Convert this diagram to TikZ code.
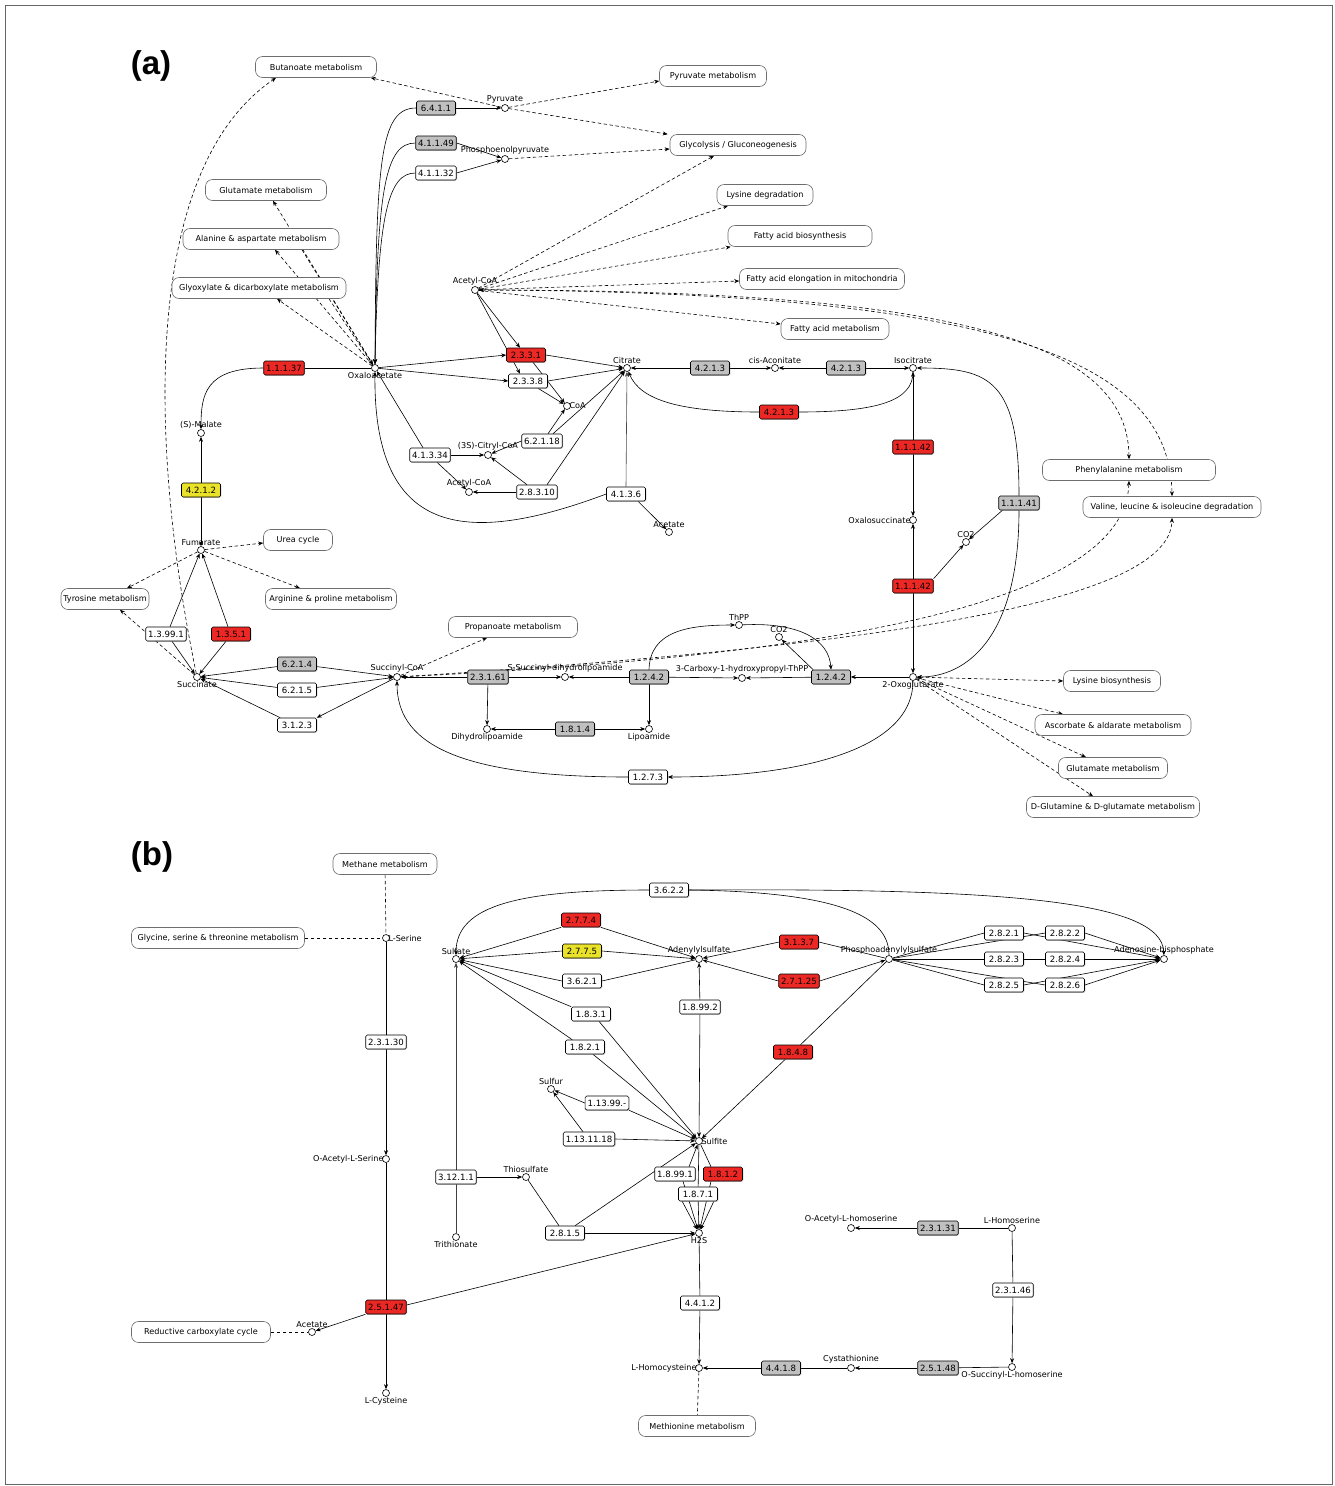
\documentclass[tikz,border=0pt]{standalone}
\usepackage{fontspec}
\setmainfont{DejaVu Sans}
\setsansfont{Liberation Sans}
\usetikzlibrary{arrows.meta,shadows}
\definecolor{ered}{RGB}{236,40,36}
\definecolor{egray}{RGB}{192,192,192}
\definecolor{eyel}{RGB}{233,226,40}
\definecolor{pborder}{RGB}{110,110,110}
\pgfdeclarelayer{bgfill}
\pgfdeclarelayer{background}
\pgfsetlayers{bgfill,background,main}
\tikzset{
 enz/.style={draw=black, line width=0.6pt, rounded corners=1.5pt, fill=white,
   font=\fontsize{8.6}{9}\selectfont, inner xsep=2.5pt, inner ysep=0pt,
   minimum width=39pt, minimum height=14pt,
   drop shadow={shadow xshift=0.8pt,shadow yshift=-0.8pt,fill=black!45}},
 enzr/.style={enz, fill=ered},
 enzg/.style={enz, fill=egray},
 enzy/.style={enz, fill=eyel},
 cpd/.style={circle, draw=black, fill=white, line width=0.6pt, inner sep=0pt,
   minimum size=7pt, label distance=3.5pt},
 lbl/.style={font=\fontsize{8.1}{9}\selectfont, inner sep=0.5pt},
 pw/.style={draw=pborder, line width=0.6pt, rounded corners=7pt, fill=white,
   font=\fontsize{8.1}{9}\selectfont, minimum height=21pt, inner xsep=2pt},
 rx/.style={line width=0.6pt},
 ar/.style={rx, -{Stealth[length=5pt,width=4pt]}},
 dl/.style={line width=0.6pt, dash pattern=on 3.5pt off 2.5pt},
 dar/.style={dl, -{Stealth[length=5pt,width=4pt]}},
 dar2/.style={dl, {Stealth[length=5pt,width=4pt]}-{Stealth[length=5pt,width=4pt]}},
 hd/.style={font=\fontsize{33}{36}\selectfont\sffamily\bfseries, inner sep=0pt},
}
\begin{document}
\begin{tikzpicture}[x=1pt,y=-1pt]
\useasboundingbox (0,0) rectangle (1335,1486);
\begin{pgfonlayer}{bgfill}
\fill[white] (0,0) rectangle (1335,1486);
\draw[black!60, line width=0.7pt] (5,5) rectangle (1332,1484);
\end{pgfonlayer}

\node[hd] (la) at (151,66) {(a)};
\node[hd] (lb) at (152,857) {(b)};

% ---------- panel (a) pathway boxes
\node[pw, minimum width=121pt] (buta) at (316,67) {Butanoate metabolism};
\node[pw, minimum width=107pt] (pyrm) at (713,76) {Pyruvate metabolism};
\node[pw, minimum width=136pt] (glyc) at (738,145) {Glycolysis / Gluconeogenesis};
\node[pw, minimum width=96pt] (lysd) at (765,195) {Lysine degradation};
\node[pw, minimum width=144pt] (fab) at (800,236) {Fatty acid biosynthesis};
\node[pw, minimum width=165pt] (fael) at (822,279) {Fatty acid elongation in mitochondria};
\node[pw, minimum width=108pt] (fam) at (835,329) {Fatty acid metabolism};
\node[pw, minimum width=121pt] (glu1) at (266,190) {Glutamate metabolism};
\node[pw, minimum width=156pt] (ala) at (261,239) {Alanine \& aspartate metabolism};
\node[pw, minimum width=174pt] (glx) at (259,288) {Glyoxylate \& dicarboxylate metabolism};
\node[pw, minimum width=173pt] (phe) at (1129,470) {Phenylalanine metabolism};
\node[pw, minimum width=178pt] (val) at (1172,507) {Valine, leucine \& isoleucine degradation};
\node[pw, minimum width=69pt] (urea) at (298,540) {Urea cycle};
\node[pw, minimum width=88pt] (tyr) at (105,599) {Tyrosine metabolism};
\node[pw, minimum width=131pt] (arg) at (331,599) {Arginine \& proline metabolism};
\node[pw, minimum width=129pt] (prop) at (513,627) {Propanoate metabolism};
\node[pw, minimum width=97pt] (lysb) at (1112,681) {Lysine biosynthesis};
\node[pw, minimum width=156pt] (asc) at (1113,725) {Ascorbate \& aldarate metabolism};
\node[pw, minimum width=109pt] (glu2) at (1113,768) {Glutamate metabolism};
\node[pw, minimum width=173pt] (dglu) at (1113,807) {D-Glutamine \& D-glutamate metabolism};

% ---------- panel (a) compounds
\node[cpd,label={[lbl]above:Pyruvate}] (pyr) at (505,108) {};
\node[cpd,label={[lbl]above:Phosphoenolpyruvate}] (pep) at (505,159) {};
\node[cpd,label={[lbl]above:Acetyl-CoA}] (acoa) at (475,290) {};
\node[cpd,label={[lbl]below:Oxaloacetate}] (oaa) at (375,368) {};
\node[cpd,label={[lbl]above:Citrate}] (cit) at (627,368) {};
\node[cpd,label={[lbl]above:cis-Aconitate}] (cis) at (775,368) {};
\node[cpd,label={[lbl]above:Isocitrate}] (icit) at (913,368) {};
\node[cpd,label={[lbl,xshift=-2pt]right:CoA}] (coa) at (567,406) {};
\node[cpd,label={[lbl]above:(S)-Malate}] (mal) at (201,433) {};
\node[cpd,label={[lbl]above:(3S)-Citryl-CoA}] (ccoa) at (488,455) {};
\node[cpd,label={[lbl]above:Acetyl-CoA}] (acoa2) at (469,492) {};
\node[cpd,label={[lbl]above:Acetate}] (ace) at (669,532) {};
\node[cpd,label={[lbl,xshift=2pt]left:Oxalosuccinate}] (osuc) at (913,520) {};
\node[cpd,label={[lbl]above:CO2}] (co2a) at (966,542) {};
\node[cpd,label={[lbl]above:Fumarate}] (fum) at (201,550) {};
\node[cpd,label={[lbl]below:Succinate}] (suc) at (197,677) {};
\node[cpd,label={[lbl]above:Succinyl-CoA}] (scoa) at (397,677) {};
\node[cpd,label={[lbl]above:S-Succinyl-dihydrolipoamide}] (ssd) at (565,677) {};
\node[cpd,label={[lbl]above:ThPP}] (thpp) at (739,625) {};
\node[cpd,label={[lbl]above:CO2}] (co2b) at (779,637) {};
\node[cpd,label={[lbl]above:3-Carboxy-1-hydroxypropyl-ThPP}] (chp) at (742,678) {};
\node[cpd,label={[lbl]below:2-Oxoglutarate}] (oxo) at (913,677) {};
\node[cpd,label={[lbl]below:Dihydrolipoamide}] (dhl) at (487,729) {};
\node[cpd,label={[lbl]below:Lipoamide}] (lip) at (649,729) {};

% ---------- panel (a) enzymes
\node[enzg] (e6411) at (436,108) {6.4.1.1};
\node[enzg] (e41149) at (436,143) {4.1.1.49};
\node[enz] (e41132) at (436,173) {4.1.1.32};
\node[enzr] (e11137) at (284,368) {1.1.1.37};
\node[enzr] (e2331) at (526,355) {2.3.3.1};
\node[enz] (e2338) at (528,381) {2.3.3.8};
\node[enzg] (e4213a) at (710,368) {4.2.1.3};
\node[enzg] (e4213b) at (846,368) {4.2.1.3};
\node[enzr] (e4213c) at (779,412) {4.2.1.3};
\node[enz] (e62118) at (542,441) {6.2.1.18};
\node[enz] (e41334) at (430,455) {4.1.3.34};
\node[enz] (e28310) at (537,492) {2.8.3.10};
\node[enz] (e4136) at (626,494) {4.1.3.6};
\node[enzy] (e4212) at (201,490) {4.2.1.2};
\node[enzr] (e11142a) at (913,447) {1.1.1.42};
\node[enzr] (e11142b) at (913,586) {1.1.1.42};
\node[enzg] (e11141) at (1019,503) {1.1.1.41};
\node[enz] (e13991) at (166,634) {1.3.99.1};
\node[enzr] (e1351) at (231,634) {1.3.5.1};
\node[enzg] (e6214) at (297,664) {6.2.1.4};
\node[enz] (e6215) at (297,690) {6.2.1.5};
\node[enz] (e3123) at (297,725) {3.1.2.3};
\node[enzg] (e23161) at (488,677) {2.3.1.61};
\node[enzg] (e1242a) at (649,677) {1.2.4.2};
\node[enzg] (e1242b) at (831,677) {1.2.4.2};
\node[enzg] (e1814) at (575,729) {1.8.1.4};
\node[enz] (e1273) at (648,777) {1.2.7.3};

% ---------- panel (b) pathway boxes
\node[pw, minimum width=104pt] (meth) at (385,864) {Methane metabolism};
\node[pw, minimum width=173pt] (gly) at (218,938) {Glycine, serine \& threonine metabolism};
\node[pw, minimum width=139pt] (redc) at (201,1332) {Reductive carboxylate cycle};
\node[pw, minimum width=117pt] (metm) at (697,1426) {Methionine metabolism};

% ---------- panel (b) compounds
\node[cpd,label={[lbl,xshift=-2pt]right:L-Serine}] (ser) at (386,938) {};
\node[cpd,label={[lbl,xshift=2pt]left:O-Acetyl-L-Serine}] (oas) at (386,1159) {};
\node[cpd,label={[lbl]above:Acetate}] (ace2) at (312,1332) {};
\node[cpd,label={[lbl]below:L-Cysteine}] (cys) at (386,1393) {};
\node[cpd,label={[lbl]above:Sulfate}] (so4) at (456,959) {};
\node[cpd,label={[lbl]above:Adenylylsulfate}] (aps) at (699,959) {};
\node[cpd,label={[lbl]above:Phosphoadenylylsulfate}] (paps) at (889,959) {};
\node[cpd,label={[lbl]above:Adenosine-bisphosphate}] (pap) at (1164,959) {};
\node[cpd,label={[lbl]above:Sulfur}] (s0) at (551,1089) {};
\node[cpd,label={[lbl,xshift=-2pt]right:Sulfite}] (so3) at (699,1141) {};
\node[cpd,label={[lbl]above:Thiosulfate}] (tsul) at (526,1177) {};
\node[cpd,label={[lbl]below:Trithionate}] (trit) at (456,1237) {};
\node[cpd,label={[lbl]below:H2S}] (h2s) at (699,1233) {};
\node[cpd,label={[lbl,xshift=2pt]left:L-Homocysteine}] (hcy) at (699,1368) {};
\node[cpd,label={[lbl]above:Cystathionine}] (cth) at (851,1368) {};
\node[cpd,label={[lbl]above:O-Acetyl-L-homoserine}] (oah) at (851,1228) {};
\node[cpd,label={[lbl]above:L-Homoserine}] (hse) at (1012,1228) {};
\node[cpd,label={[lbl]below:O-Succinyl-L-homoserine}] (osh) at (1012,1367) {};

% ---------- panel (b) enzymes
\node[enz] (e23130) at (386,1042) {2.3.1.30};
\node[enzr] (e25147) at (386,1307) {2.5.1.47};
\node[enz] (e3622) at (669,890) {3.6.2.2};
\node[enzr] (e2774) at (581,920) {2.7.7.4};
\node[enzy] (e2775) at (582,951) {2.7.7.5};
\node[enz] (e3621) at (582,981) {3.6.2.1};
\node[enzr] (e3137) at (799,942) {3.1.3.7};
\node[enzr] (e27125) at (799,981) {2.7.1.25};
\node[enz] (e1831) at (591,1014) {1.8.3.1};
\node[enz] (e1821) at (585,1047) {1.8.2.1};
\node[enz] (e18992) at (700,1007) {1.8.99.2};
\node[enzr] (e1848) at (793,1052) {1.8.4.8};
\node[enz] (e11399) at (607,1103) {1.13.99.-};
\node[enz] (e1131118) at (589,1139) {1.13.11.18};
\node[enz] (e31211) at (456,1177) {3.12.1.1};
\node[enz] (e18991) at (675,1174) {1.8.99.1};
\node[enzr] (e1812) at (723,1174) {1.8.1.2};
\node[enz] (e1871) at (698,1194) {1.8.7.1};
\node[enz] (e2815) at (565,1233) {2.8.1.5};
\node[enz] (e4412) at (700,1303) {4.4.1.2};
\node[enzg] (e4418) at (781,1368) {4.4.1.8};
\node[enzg] (e25148) at (938,1368) {2.5.1.48};
\node[enzg] (e23131) at (938,1228) {2.3.1.31};
\node[enz] (e23146) at (1013,1290) {2.3.1.46};
\node[enz] (e2821) at (1004,933) {2.8.2.1};
\node[enz] (e2822) at (1065,933) {2.8.2.2};
\node[enz] (e2823) at (1004,959) {2.8.2.3};
\node[enz] (e2824) at (1065,959) {2.8.2.4};
\node[enz] (e2825) at (1004,985) {2.8.2.5};
\node[enz] (e2826) at (1065,985) {2.8.2.6};

\begin{pgfonlayer}{background}
% ===== panel (a) edges
\draw[ar] (e6411) -- (pyr);
\draw[ar] (e41149.east) -- (pep);
\draw[ar] (e41132.east) -- (pep);
\draw[ar] (e6411.west) .. controls (380,108) and (376,160) .. (oaa.north);
\draw[ar] (e41149.west) .. controls (385,143) and (377,190) .. (oaa.north);
\draw[ar] (e41132.west) .. controls (388,173) and (378,215) .. (oaa.north);

\draw[dar] (pyr) -- ([xshift=-6pt]buta.south east);
\draw[dar] (pyr) -- ([yshift=-5pt]pyrm.west);
\draw[dar] (pyr) -- ([xshift=-2pt]glyc.north west);
\draw[dar] (pep) -- ([yshift=-4pt]glyc.west);
\draw[dar] (acoa) -- ([xshift=-24pt]glyc.south);
\draw[dar] (acoa) -- ([xshift=-37pt]lysd.south);
\draw[dar] (acoa) -- ([xshift=3pt]fab.south west);
\draw[dar] (acoa) -- ([yshift=-2pt]fael.west);
\draw[dar] (acoa) -- ([yshift=5pt]fam.west);
\draw[dar2] (acoa) .. controls (950,290) and (1128,340) .. (phe.north);
\draw[dar2] (acoa) .. controls (1000,292) and (1170,360) .. (val.north);
\draw[dar2] (scoa) .. controls (850,655) and (1125,600) .. (phe.south);
\draw[dar2] (scoa) .. controls (900,645) and (1170,600) .. (val.south);

\draw[dar] (oaa) -- ([xshift=7pt]glu1.south);
\draw[dar] (oaa) -- ([xshift=14pt]ala.south);
\draw[dar] (oaa) -- ([xshift=18pt]glx.south);
\draw[dar] ([xshift=41pt]ala.south) -- (oaa);
\draw[dar] ([xshift=70pt]glx.south) -- (oaa);

\draw[dar] (suc) .. controls (150,450) and (140,170) .. ([xshift=-40pt]buta.south);

\draw[rx] (e11137) -- (oaa);
\draw[ar] (e11137.west) .. controls (205,368) and (201,395) .. (mal);
\draw[ar] (e4212) -- (mal);
\draw[ar] (e4212) -- (fum);
\draw[ar] (oaa) -- (e2331.west);
\draw[ar] (oaa) -- (e2338.west);
\draw[ar] (acoa) -- ([xshift=-6pt]e2331.north);
\draw[ar] (acoa) -- ([xshift=-8pt]e2338.north);
\draw[ar] (e2331.east) -- (cit);
\draw[ar] ([xshift=7pt]e2331.south) -- (coa);
\draw[ar] (e2338.east) -- (cit);
\draw[ar] ([xshift=10pt]e2338.south) -- (coa);
\draw[ar] ([xshift=6pt]e62118.north) -- (coa);
\draw[ar] ([xshift=11pt]e62118.north) -- (cit);
\draw[ar] (e62118.west) -- (ccoa);
\draw[ar] (e41334.east) -- (ccoa);
\draw[ar] ([xshift=-7pt]e41334.north) -- (oaa);
\draw[ar] ([xshift=7pt]e41334.south) -- (acoa2);
\draw[ar] (e28310.west) -- (acoa2);
\draw[ar] ([xshift=-10pt]e28310.north) -- (ccoa);
\draw[ar] ([xshift=10pt]e28310.north) -- (cit);
\draw[ar, black!70] (e4136.north) -- (cit);
\draw[ar] (e4136.west) .. controls (470,545) and (373,540) .. (oaa.south);
\draw[ar] ([xshift=12pt]e4136.south) -- (ace);
\draw[ar] (e4213a) -- (cit);
\draw[ar] (e4213a) -- (cis);
\draw[ar] (e4213b) -- (cis);
\draw[ar] (e4213b) -- (icit);
\draw[ar] (e4213c.west) .. controls (680,412) and (640,400) .. (cit);
\draw[rx] (e4213c.east) .. controls (880,412) and (913,400) .. (icit);
\draw[ar] (e11142a) -- (icit);
\draw[ar] (e11142a) -- (osuc);
\draw[ar] (e11142b) -- (osuc);
\draw[ar] (e11142b) -- (oxo);
\draw[ar] (e11142b.north east) -- (co2a);
\draw[ar] ([xshift=4pt]e11141.south west) -- (co2a);
\draw[ar] (e11141.north) .. controls (1019,380) and (990,368) .. (icit);
\draw[ar] (e11141.south) .. controls (1019,640) and (965,677) .. (oxo);
\draw[ar] (oxo) -- (e1242b);
\draw[ar] (e1242b) -- (chp);
\draw[ar] ([xshift=2pt]e1242b.north west) -- (co2b);
\draw[ar] (thpp) .. controls (800,622) and (829,640) .. (e1242b.north);
\draw[ar] (e1242a.north) .. controls (650,630) and (690,625) .. (thpp);
\draw[ar] (e1242a) -- (chp);
\draw[ar] (e1242a) -- (ssd);
\draw[ar] (e23161) -- (ssd);
\draw[ar] (e23161) -- (scoa);
\draw[ar] (e23161) -- (dhl);
\draw[ar] (e1242a) -- (lip);
\draw[ar] (e1814) -- (dhl);
\draw[ar] (e1814) -- (lip);
\draw[ar] (oxo) .. controls (913,750) and (800,777) .. (e1273);
\draw[ar] (e1273.west) .. controls (450,777) and (397,740) .. (scoa);

\draw[ar] (e6214) -- (scoa);
\draw[ar] (e6214) -- (suc);
\draw[ar] (e6215) -- (scoa);
\draw[ar] (e6215) -- (suc);
\draw[ar] (scoa) -- (e3123.north east);
\draw[ar] ([xshift=3pt]e3123.north west) -- (suc);
\draw[ar] ([xshift=4pt]e13991.north) -- (fum);
\draw[ar] ([xshift=6pt]e13991.south) -- (suc);
\draw[ar] ([xshift=-3pt]e1351.north) -- (fum);
\draw[ar] ([xshift=-5pt]e1351.south) -- (suc);

\draw[dar] (fum) -- ([yshift=-3pt]urea.west);
\draw[dar] (fum) -- ([xshift=22pt]tyr.north);
\draw[dar] (fum) -- ([xshift=-31pt]arg.north);
\draw[dar] (suc) -- ([xshift=15pt]tyr.south);
\draw[dar] (scoa) -- ([xshift=-26pt]prop.south);
\draw[dar2] (oxo) -- (lysb.west);
\draw[dar] (oxo) -- ([xshift=-50pt]asc.north);
\draw[dar] (oxo) -- ([xshift=-27pt]glu2.north);
\draw[dar] (oxo) -- ([xshift=-20pt]dglu.north);

% ===== panel (b) edges
\draw[dl] (meth) -- (ser);
\draw[dl] (gly) -- (ser);
\draw[rx] (ser) -- (e23130);
\draw[ar] (e23130) -- (oas);
\draw[rx] (oas) -- (e25147);
\draw[ar] (e25147) -- (cys);
\draw[ar] (e25147.south west) -- (ace2);
\draw[dl] (redc) -- (ace2);
\draw[ar] ([yshift=2pt]e25147.east) -- (h2s);

\draw[ar] (e3622.west) .. controls (520,890) and (456,905) .. (so4);
\draw[ar] (e3622.east) .. controls (1000,888) and (1162,900) .. (pap);
\draw[rx] (e3622.east) .. controls (850,892) and (889,920) .. (paps);
\draw[ar] (e2774.south west) -- (so4);
\draw[ar] (e2774.south east) -- (aps);
\draw[ar] (e2775.west) -- (so4);
\draw[ar] (e2775.east) -- (aps);
\draw[ar] (e3621.west) -- (so4);
\draw[rx] (e3621.east) -- (aps);
\draw[ar] (e3137.west) -- (aps);
\draw[rx] (e3137.east) -- (paps);
\draw[ar] (e27125.west) -- (aps);
\draw[ar] (e27125.east) -- (paps);
\draw[ar] (e18992) -- (aps);
\draw[ar] (e18992) -- (so3);
\draw[rx] (paps) -- (e1848);
\draw[ar] (e1848) -- (so3);
\draw[ar] (e1831.north west) -- (so4);
\draw[ar] ([xshift=8pt]e1831.south) -- (so3);
\draw[ar] ([xshift=7pt]e1821.north west) -- (so4);
\draw[ar] ([xshift=8pt]e1821.south) -- (so3);
\draw[ar] (e11399.south east) -- (so3);
\draw[ar] (e11399.west) -- (s0);
\draw[ar] (e1131118.east) -- (so3);
\draw[ar] ([xshift=-6pt]e1131118.north) -- (s0);
\draw[ar, black!75] (e31211) -- (so4);
\draw[rx, black!75] (trit) -- (e31211);
\draw[ar] (e31211) -- (tsul);
\draw[rx] (tsul) -- ([xshift=-6pt]e2815.north);
\draw[ar] (e2815) -- (h2s);
\draw[ar] ([xshift=10pt]e2815.north) -- (so3);
\draw[ar] ([xshift=14pt]e18991.north) -- (so3);
\draw[ar] ([xshift=8pt]e18991.south) -- (h2s);
\draw[rx] ([xshift=-12pt]e1812.north) -- (so3);
\draw[ar] ([xshift=-12pt]e1812.south) -- (h2s);
\draw[rx] (so3) -- (e1871);
\draw[ar] (e1871) -- (h2s);
\draw[ar] ([xshift=4pt]e1871.south west) -- (h2s);
\draw[ar] ([xshift=-4pt]e1871.south east) -- (h2s);
\draw[rx] (h2s) -- (e4412);
\draw[ar] (e4412) -- (hcy);
\draw[dl] (hcy) -- (metm);
\draw[rx] (cth) -- (e4418);
\draw[ar] (e4418) -- (hcy);
\draw[rx] (osh) -- (e25148);
\draw[ar] (e25148) -- (cth);
\draw[rx] (hse) -- (e23131);
\draw[ar] (e23131) -- (oah);
\draw[rx] (hse) -- (e23146);
\draw[ar] (e23146) -- (osh);
\foreach \e in {e2821,e2822,e2823,e2824,e2825,e2826}{
  \draw[rx] (paps) -- (\e.west);
  \draw[ar] (\e.east) -- (pap);
}
\end{pgfonlayer}
\end{tikzpicture}
\end{document}
